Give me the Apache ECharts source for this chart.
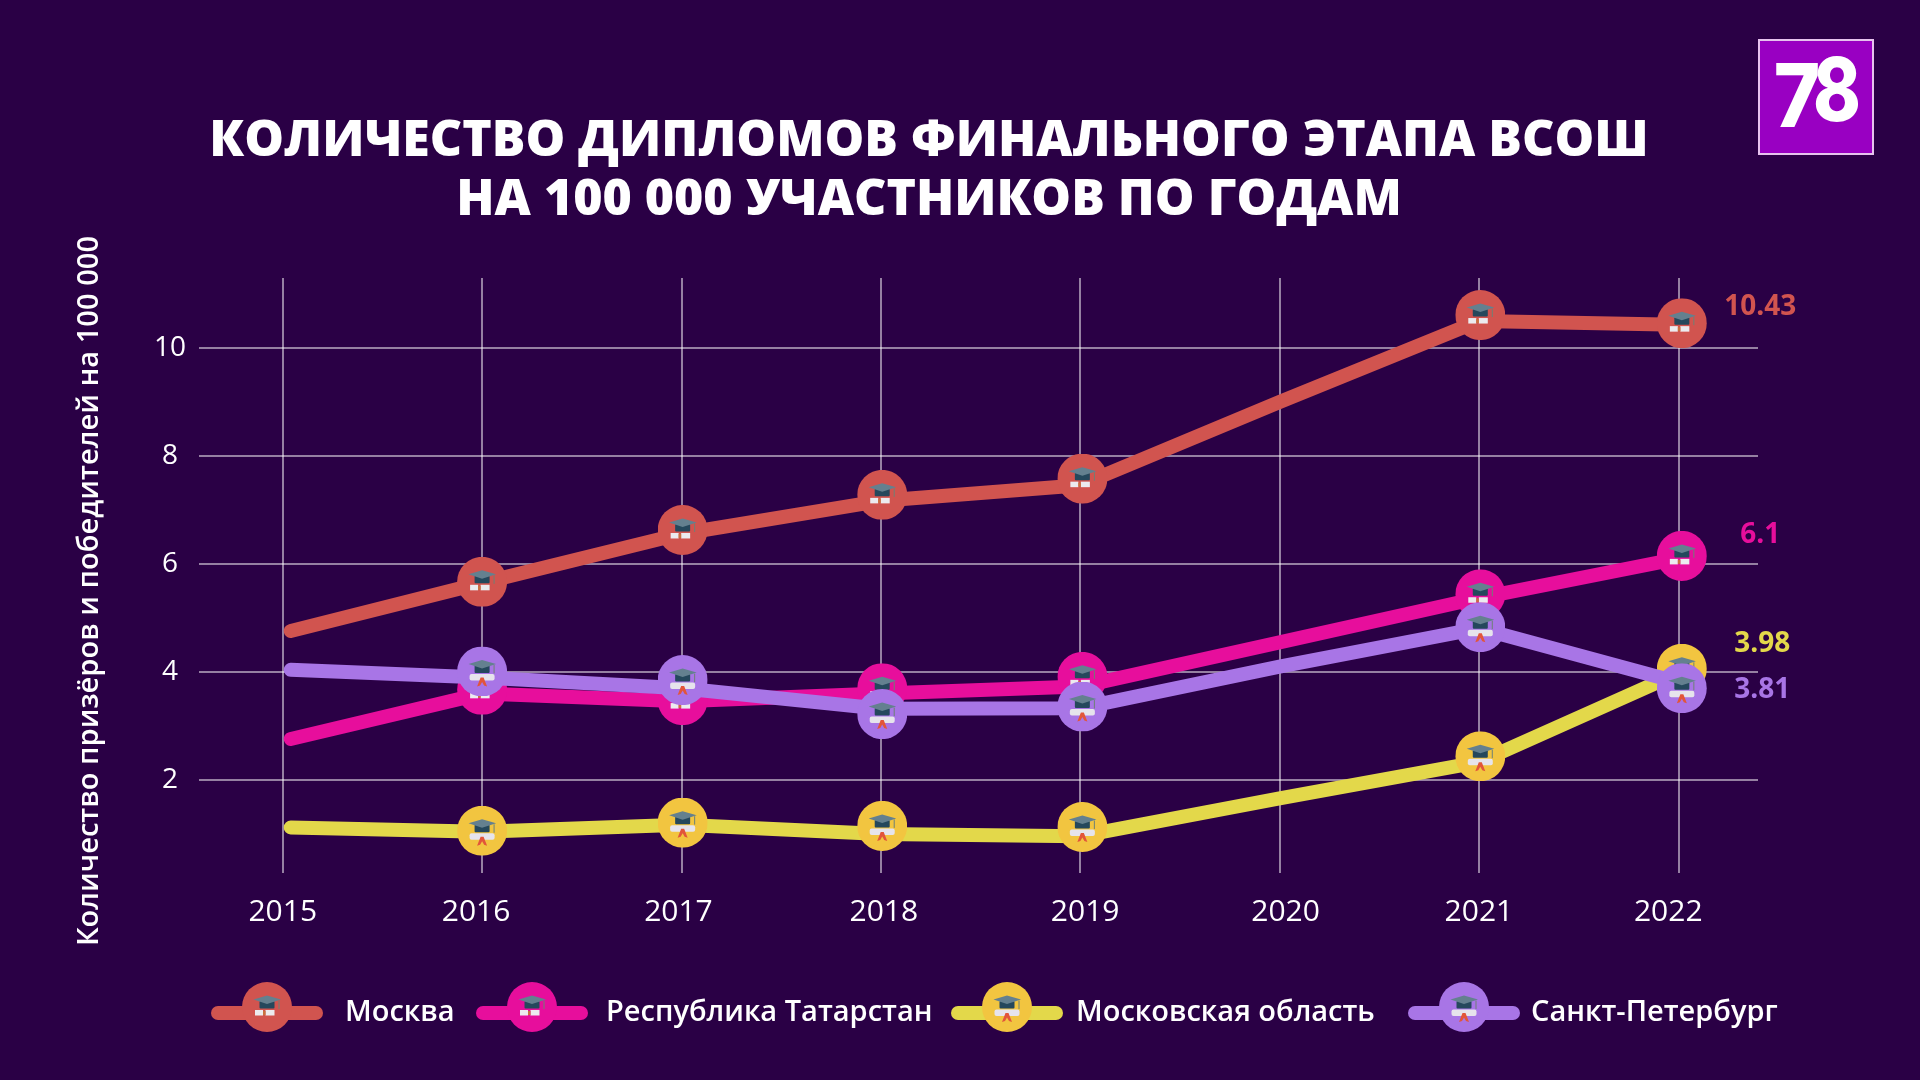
<!DOCTYPE html>
<html><head><meta charset="utf-8">
<style>html,body{margin:0;padding:0;background:#2a0045}#c{width:1920px;height:1080px}</style>
<script src="https://cdn.jsdelivr.net/npm/echarts@6/dist/echarts.min.js"></script>
</head><body><div id="c"></div>
<script>
const titleText = 'КОЛИЧЕСТВО ДИПЛОМОВ ФИНАЛЬНОГО ЭТАПА ВСОШ\nНА 100 000 УЧАСТНИКОВ ПО ГОДАМ';
const yAxisTitle = 'Количество призёров и победителей на 100 000';
const seriesNames = ['Москва', 'Республика Татарстан', 'Московская область', 'Санкт-Петербург'];
const tickYears = [2015, 2016, 2017, 2018, 2019, 2020, 2021, 2022];
const tickValues = [2, 4, 6, 8, 10];
// x of each line vertex: the lines start a little right of the 2015 gridline
const lineYears = [2015.04, 2016, 2017, 2018, 2019, 2020, 2021, 2022];
const moscowLine = [4.76, 5.65, 6.56, 7.17, 7.46, 9.0, 10.5, 10.43];
const tatarstanLine = [2.76, 3.6, 3.46, 3.6, 3.73, 4.55, 5.37, 6.1];
const moscowRegionLine = [1.12, 1.04, 1.17, 1.0, 0.96, 1.66, 2.33, 3.98];
const spbLine = [4.04, 3.9, 3.7, 3.32, 3.33, 4.1, 4.81, 3.81];
// the round markers sit only on these years, and slightly apart from the line
const markerYears = [2016, 2017.006, 2018.007, 2019.011, 2021.007, 2022.018];
const moscowMarkers = [5.67, 6.63, 7.28, 7.58, 10.61, 10.46];
const tatarstanMarkers = [3.67, 3.48, 3.70, 3.91, 5.44, 6.15];
const moscowRegionMarkers = [1.06, 1.21, 1.15, 1.13, 2.44, 4.06];
const spbMarkers = [4.01, 3.85, 3.22, 3.36, 4.83, 3.70];

const lineColors = ['#d1544f', '#e70e9c', '#e3d84a', '#a875e6'];
const markerColors = ['#d1544f', '#e70e9c', '#f2c540', '#a875e6'];
const endLabelOffsets = [[82, -18], [82, -24], [84, -29], [84, 8]];
const legendLeft = [211, 476, 951, 1408];
const legendTextPad = [24, 20, 15, 13];
const yearLabelShift = [0, -6, -3, 3, 5, 6, 0, -10];
const FONT = '"Open Sans"';

function capSvg(fillScroll, ribbon) {
  const scroll = ribbon === 'long'
    ? `<rect x="12.5" y="27.5" width="25" height="6.5" rx="2" fill="#e6e4ec"/>
       <path d="M23.5 31 L20 40 L23 39 L25 35.5 L27 39 L30 40 L26.5 31Z" fill="#e2553a"/>`
    : `<rect x="13" y="28" width="8" height="5.5" fill="${fillScroll}"/><rect x="23.5" y="28" width="9" height="5.5" fill="${fillScroll}"/>
       <rect x="21" y="29" width="2.5" height="4" fill="#c9723e"/>`;
  return `${scroll}
    <rect x="17.5" y="19" width="15" height="7.5" rx="1" fill="#25485c"/>
    <polygon points="11.5,17.5 25,13.5 39,17.5 25,22" fill="#64808f"/>
    <path d="M37 18.5 V27" stroke="#6e8176" stroke-width="1"/>`;
}
function markerSvg(i, viewBox, size) {
  const rib = i >= 2 ? 'long' : 'short';
  const s = `<svg xmlns="http://www.w3.org/2000/svg" width="${size}" height="${size}" viewBox="${viewBox}">
    <circle cx="25" cy="25" r="25" fill="${markerColors[i]}"/>${capSvg('#ecebef', rib)}</svg>`;
  return 'image://data:image/svg+xml;base64,' + btoa(s);
}
const lineData = [moscowLine, tatarstanLine, moscowRegionLine, spbLine];
const markerData = [moscowMarkers, tatarstanMarkers, moscowRegionMarkers, spbMarkers];

const series = [];
seriesNames.forEach((name, i) => {
  series.push({
    type: 'line', name, z: 10 + i * 2,
    symbol: markerSvg(i, '-6 0 62 62', 124),
    data: lineData[i].map((v, k) => ({ value: [lineYears[k], v], symbol: 'none' })),
    lineStyle: { color: lineColors[i], width: 14, cap: 'round', join: 'round' },
    itemStyle: { color: lineColors[i] },
    endLabel: {
      show: true, formatter: p => String(p.value[1]), align: 'center', verticalAlign: 'middle', distance: 0,
      offset: endLabelOffsets[i], color: lineColors[i], fontFamily: FONT, fontWeight: 'bold', fontSize: 28
    },
    animation: false, silent: true
  });
  series.push({
    type: 'scatter', name, z: 11 + i * 2,
    symbol: markerSvg(i, '0 0 50 50', 100), symbolSize: 50,
    itemStyle: { opacity: 1 },
    data: markerData[i].map((v, k) => [markerYears[k], v]),
    animation: false, silent: true
  });
});

const rich = {};
tickYears.forEach((y, i) => {
  const d = yearLabelShift[i];
  rich['y' + i] = { fontFamily: FONT, fontSize: 30, fontWeight: 500, color: '#fff',
    padding: d >= 0 ? [0, 0, 0, 2 * d] : [0, -2 * d, 0, 0] };
});

const legends = seriesNames.map((name, i) => ({
  data: [name], left: legendLeft[i], top: 982, padding: 0, itemWidth: 98, itemHeight: 77.5,
  selectedMode: false,
  lineStyle: { width: 14, cap: 'round' },
  textStyle: { color: '#fff', fontFamily: FONT, fontSize: 29, fontWeight: 600, padding: [0, 0, 0, legendTextPad[i]] }
}));

const chart = echarts.init(document.getElementById('c'), null, { renderer: 'canvas' });
chart.setOption({
  backgroundColor: '#2a0045',
  animation: false,
  title: {
    text: titleText, left: 924, top: 107, textAlign: 'center',
    textStyle: { color: '#fff', fontFamily: FONT, fontWeight: 800, fontSize: 50, lineHeight: 59 }
  },
  legend: legends,
  grid: { left: 199, right: 162, top: 278, bottom: 207 },
  xAxis: {
    type: 'value', min: 2014.58, max: 2022.4,
    axisLine: { show: false },
    axisTick: { show: false, customValues: tickYears },
    axisLabel: { customValues: tickYears, margin: 24, color: '#fff', fontFamily: FONT, fontSize: 30,
      formatter: v => `{y${tickYears.indexOf(v)}|${v}}`, rich },
    splitLine: { show: true, lineStyle: { color: 'rgba(255,255,255,0.5)', width: 2 } }
  },
  yAxis: {
    type: 'value', min: 0.278, max: 11.296,
    axisLine: { show: false },
    axisTick: { show: false, customValues: tickValues },
    axisLabel: { customValues: tickValues, margin: 29, align: 'center', color: '#fff', fontFamily: FONT, fontSize: 28, fontWeight: 500,
      padding: [0, 0, 13, 0], formatter: v => String(v) },
    splitLine: { show: true, lineStyle: { color: 'rgba(255,255,255,0.5)', width: 2 } }
  },
  graphic: [
    { type: 'text', rotation: Math.PI / 2, x: 90, y: 591, z: 5,
      style: { text: yAxisTitle, fill: '#fff', font: '600 29.1px ' + FONT, textAlign: 'center', textVerticalAlign: 'middle' } },
    { type: 'rect', shape: { x: 1759, y: 40, width: 114, height: 114 }, z: 5,
      style: { fill: '#9900c2', stroke: '#e6c3ee', lineWidth: 2 } },
    { type: 'text', x: 1797, y: 101, z: 6, scaleX: 0.9,
      style: { text: '7', fill: '#fff', font: '800 88px Inter', textAlign: 'center', textVerticalAlign: 'middle' } },
    { type: 'text', x: 1837, y: 95, z: 6, scaleX: 0.82,
      style: { text: '8', fill: '#fff', font: '800 88px Inter', textAlign: 'center', textVerticalAlign: 'middle' } }
  ],
  series
});
</script></body></html>
